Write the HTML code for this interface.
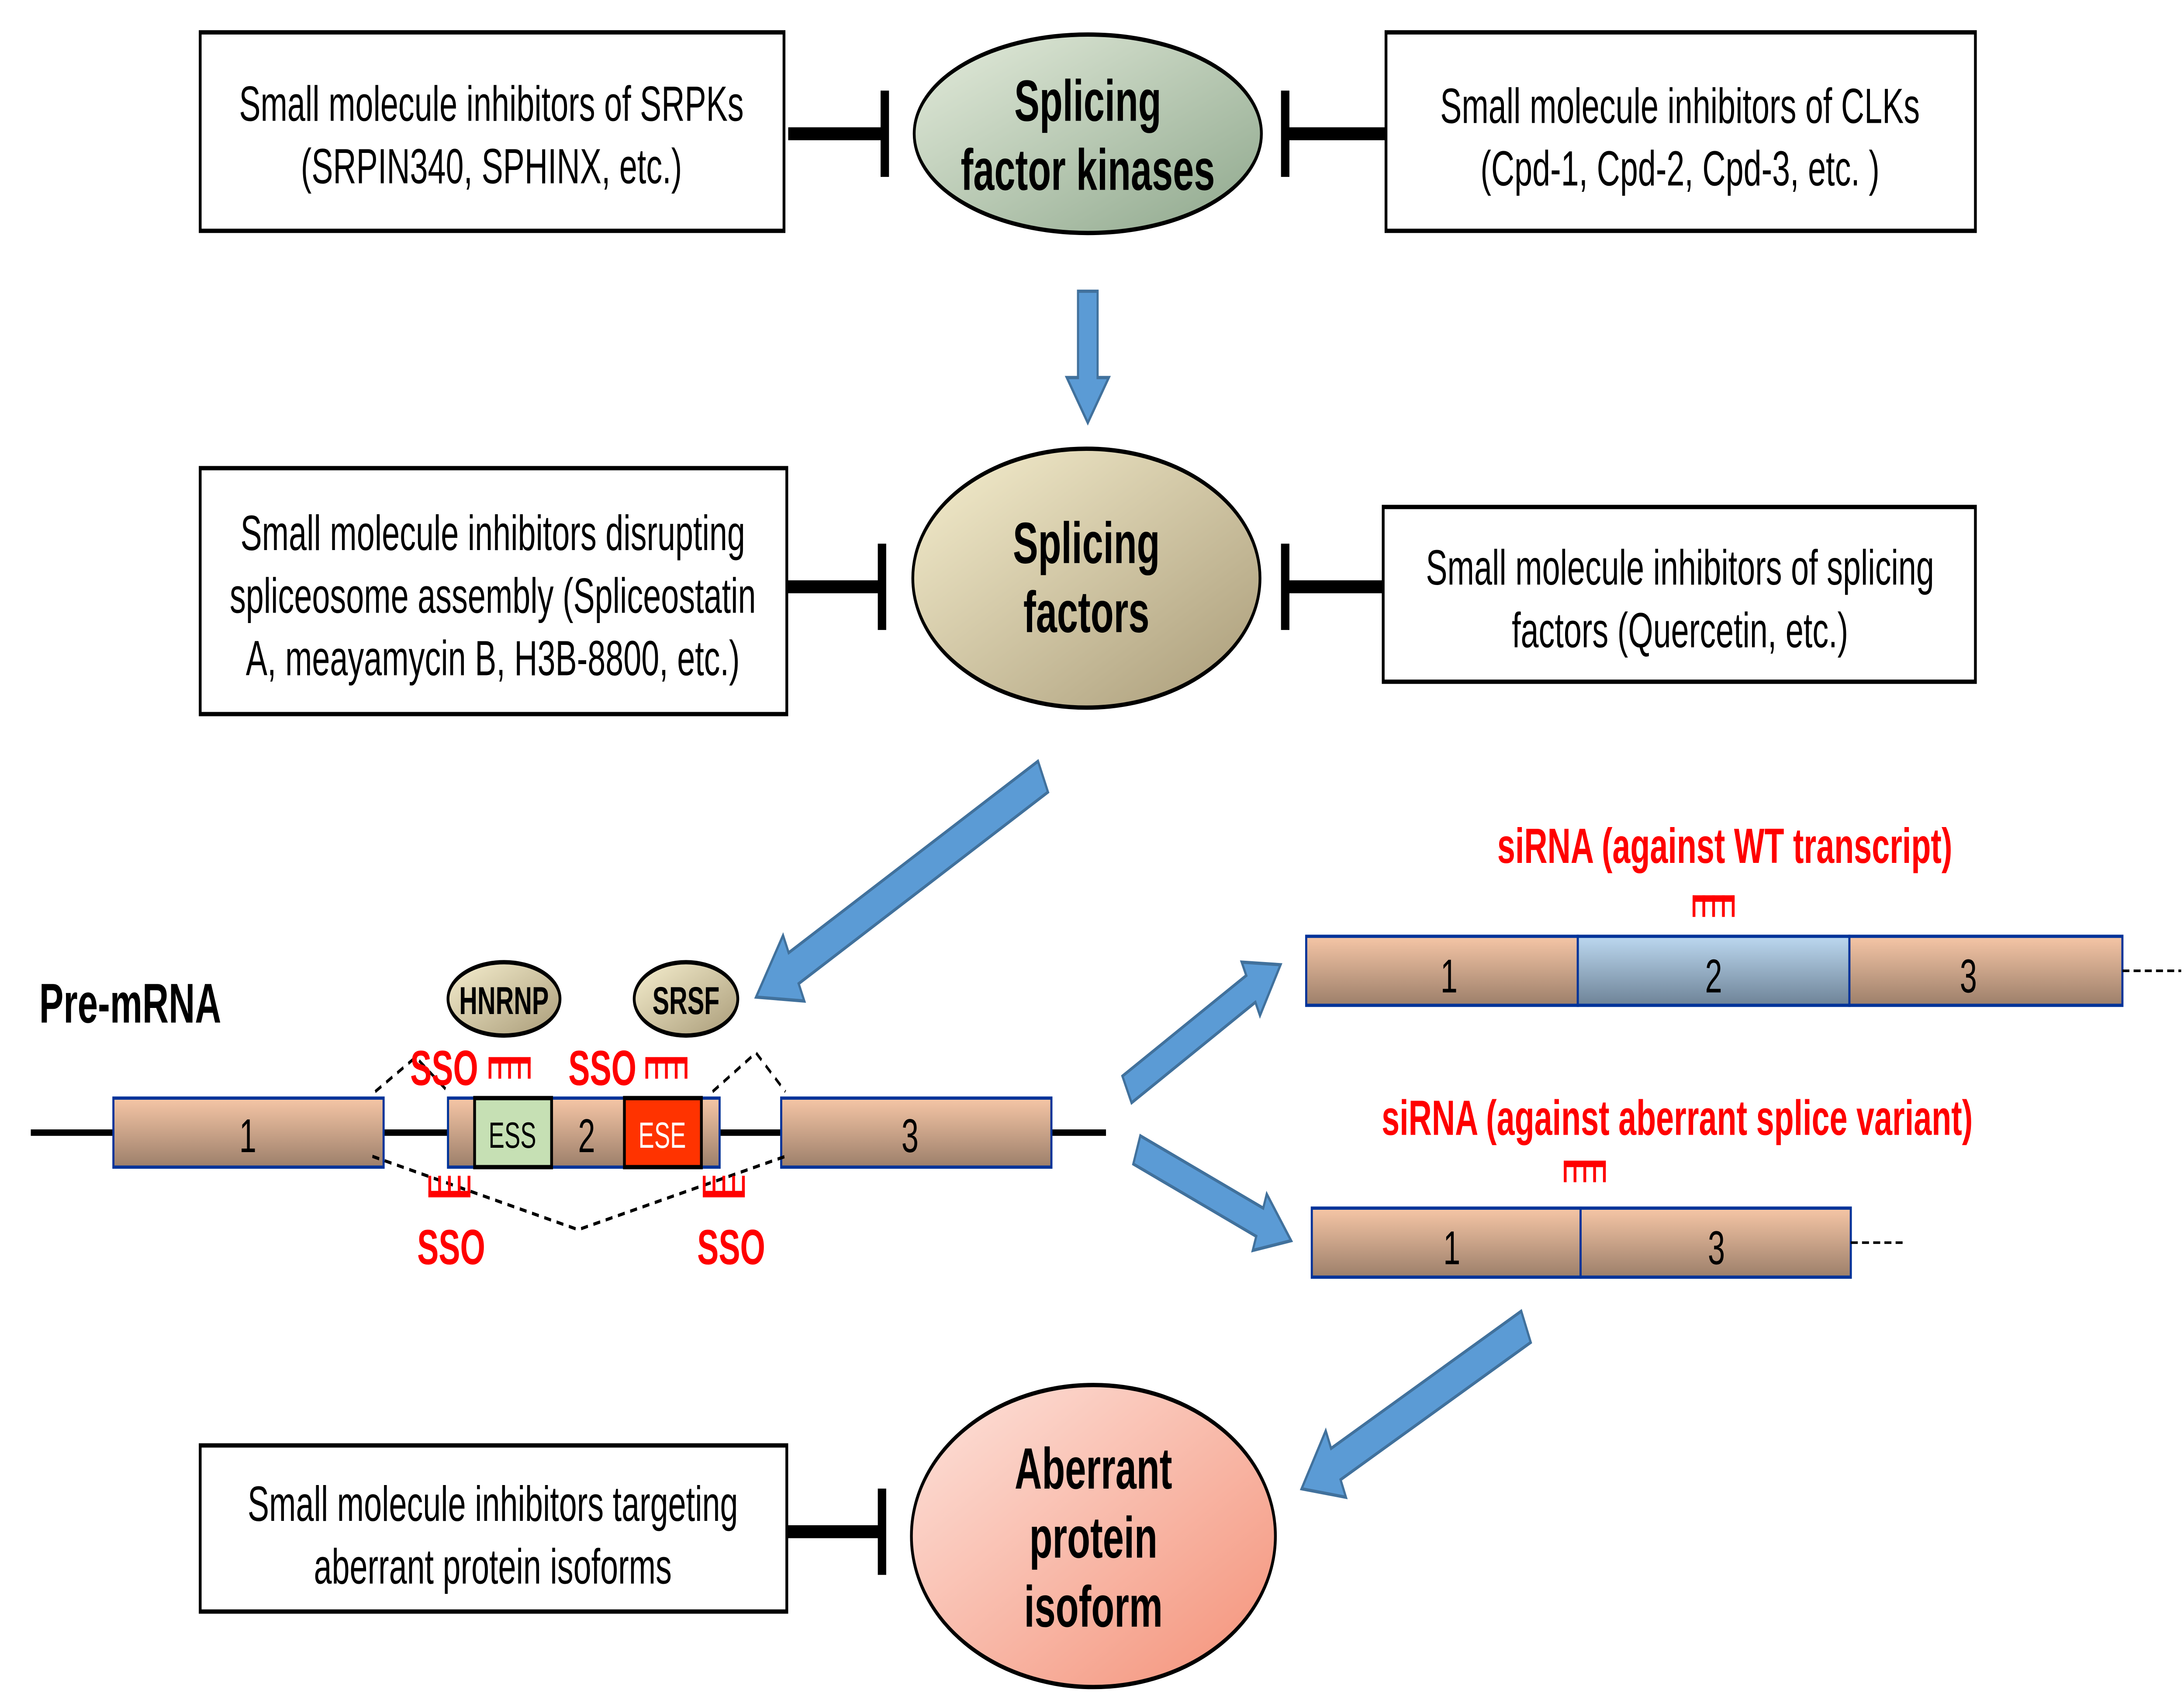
<!DOCTYPE html>
<html><head><meta charset="utf-8"><style>html,body{margin:0;padding:0;background:#fff;width:100vw;height:100vh;overflow:hidden}svg{display:block;position:absolute;left:0;top:0;width:100vw;height:100vh}</style></head>
<body>
<svg viewBox="0 0 1560 788" preserveAspectRatio="none" xmlns="http://www.w3.org/2000/svg" font-family="Liberation Sans, Arial, sans-serif">
<defs>
<linearGradient id="gk" x1="0" y1="0" x2="1" y2="1"><stop offset="0" stop-color="#e4ecdc"/><stop offset="1" stop-color="#8ea78c"/></linearGradient>
<linearGradient id="gf" x1="0" y1="0" x2="1" y2="1"><stop offset="0" stop-color="#f6efcf"/><stop offset="1" stop-color="#a99b78"/></linearGradient>
<linearGradient id="gp" x1="0" y1="0" x2="1" y2="1"><stop offset="0" stop-color="#fde3dc"/><stop offset="1" stop-color="#f49178"/></linearGradient>
<linearGradient id="ge" x1="0" y1="0" x2="0" y2="1"><stop offset="0" stop-color="#f6c6a6"/><stop offset="1" stop-color="#9c7f6a"/></linearGradient>
<linearGradient id="gb" x1="0" y1="0" x2="0" y2="1"><stop offset="0" stop-color="#bcd8f0"/><stop offset="1" stop-color="#6e8397"/></linearGradient>
<g id="comb"><rect x="0" y="0" width="30" height="3" fill="#f00"/><g stroke="#f00" stroke-width="2"><line x1="1" y1="0" x2="1" y2="10"/><line x1="8" y1="0" x2="8" y2="10"/><line x1="15" y1="0" x2="15" y2="10"/><line x1="22" y1="0" x2="22" y2="10"/><line x1="29" y1="0" x2="29" y2="10"/></g></g>
</defs>

<rect x="143" y="15" width="417" height="92" fill="#fff" stroke="#000" stroke-width="2"/>
<text x="351" y="56" font-size="23" text-anchor="middle">Small molecule inhibitors of SRPKs</text>
<text x="351" y="85" font-size="23" text-anchor="middle">(SRPIN340, SPHINX, etc.)</text>
<line x1="563" y1="62" x2="632" y2="62" stroke="#000" stroke-width="6"/>
<line x1="632" y1="42" x2="632" y2="82" stroke="#000" stroke-width="6"/>
<ellipse cx="777" cy="62" rx="124" ry="46" fill="url(#gk)" stroke="#000" stroke-width="2"/>
<text x="777" y="56" font-size="27" font-weight="bold" text-anchor="middle">Splicing</text>
<text x="777" y="88" font-size="27" font-weight="bold" text-anchor="middle">factor kinases</text>
<line x1="918" y1="42" x2="918" y2="82" stroke="#000" stroke-width="6"/>
<line x1="918" y1="62" x2="990" y2="62" stroke="#000" stroke-width="6"/>
<rect x="990" y="15" width="421" height="92" fill="#fff" stroke="#000" stroke-width="2"/>
<text x="1200" y="57" font-size="23" text-anchor="middle">Small molecule inhibitors of CLKs</text>
<text x="1200" y="86" font-size="23" text-anchor="middle">(Cpd-1, Cpd-2, Cpd-3, etc. )</text>

<path d="M770,135 L784,135 L784,175 L792,175 L777,196 L762,175 L770,175 Z" fill="#5b9bd5" stroke="#41719c" stroke-width="1.5"/>

<rect x="143" y="217" width="419" height="114" fill="#fff" stroke="#000" stroke-width="2"/>
<text x="352" y="255" font-size="23" text-anchor="middle">Small molecule inhibitors disrupting</text>
<text x="352" y="284" font-size="23" text-anchor="middle">spliceosome assembly (Spliceostatin</text>
<text x="352" y="313" font-size="23" text-anchor="middle">A, meayamycin B, H3B-8800, etc.)</text>
<line x1="562" y1="272" x2="630" y2="272" stroke="#000" stroke-width="6"/>
<line x1="630" y1="252" x2="630" y2="292" stroke="#000" stroke-width="6"/>
<ellipse cx="776" cy="268" rx="124" ry="60" fill="url(#gf)" stroke="#000" stroke-width="2"/>
<text x="776" y="261" font-size="27" font-weight="bold" text-anchor="middle">Splicing</text>
<text x="776" y="293" font-size="27" font-weight="bold" text-anchor="middle">factors</text>
<line x1="918" y1="252" x2="918" y2="292" stroke="#000" stroke-width="6"/>
<line x1="918" y1="272" x2="988" y2="272" stroke="#000" stroke-width="6"/>
<rect x="988" y="235" width="423" height="81" fill="#fff" stroke="#000" stroke-width="2"/>
<text x="1200" y="271" font-size="23" text-anchor="middle">Small molecule inhibitors of splicing</text>
<text x="1200" y="300" font-size="23" text-anchor="middle">factors (Quercetin, etc.)</text>

<g fill="#5b9bd5" stroke="#41719c" stroke-width="1.5">
<path transform="translate(745,360) rotate(153.5)" d="M0,-8 L199,-8 L199,-17 L229,0 L199,17 L199,8 L0,8 Z"/>
<path transform="translate(805,505) rotate(-27.8)" d="M0,-7 L100,-7 L100,-14 L124,0 L100,14 L100,7 L0,7 Z"/>
<path transform="translate(812,533) rotate(20.9)" d="M0,-7 L94,-7 L94,-14 L118,0 L94,14 L94,7 L0,7 Z"/>
<path transform="translate(1090,615) rotate(154.9)" d="M0,-8 L150,-8 L150,-17 L177,0 L150,17 L150,8 L0,8 Z"/>
</g>

<text x="28" y="474" font-size="26" font-weight="bold">Pre-mRNA</text>
<ellipse cx="360" cy="463" rx="40" ry="17" fill="url(#gf)" stroke="#000" stroke-width="2"/>
<text x="360" y="470" font-size="18" font-weight="bold" text-anchor="middle">HNRNP</text>
<ellipse cx="490" cy="463" rx="37" ry="17" fill="url(#gf)" stroke="#000" stroke-width="2"/>
<text x="490" y="470" font-size="18" font-weight="bold" text-anchor="middle">SRSF</text>

<line x1="22" y1="525" x2="790" y2="525" stroke="#000" stroke-width="3"/>
<g stroke="#003399" stroke-width="1.5">
<rect x="81" y="509" width="193" height="32" fill="url(#ge)"/>
<rect x="320" y="509" width="194" height="32" fill="url(#ge)"/>
<rect x="558" y="509" width="193" height="32" fill="url(#ge)"/>
</g>
<rect x="339" y="509" width="55" height="32" fill="#c6e0b4" stroke="#000" stroke-width="2"/>
<rect x="446" y="509" width="55" height="32" fill="#ff3300" stroke="#000" stroke-width="2"/>
<text x="177" y="534" font-size="22" text-anchor="middle">1</text>
<text x="366" y="532" font-size="17" text-anchor="middle">ESS</text>
<text x="419" y="534" font-size="22" text-anchor="middle">2</text>
<text x="473" y="532" font-size="17" text-anchor="middle" fill="#fff">ESE</text>
<text x="650" y="534" font-size="22" text-anchor="middle">3</text>
<g fill="none" stroke="#000" stroke-width="1.5" stroke-dasharray="5,4">
<polyline points="268,506 297,490 320,506"/>
<polyline points="509,506 540,488 561,506"/>
<polyline points="266,536 413,570 561,536"/>
</g>
<g font-size="23" font-weight="bold" fill="#f00">
<text x="293" y="503">SSO</text>
<text x="406" y="503">SSO</text>
<text x="298" y="586">SSO</text>
<text x="498" y="586">SSO</text>
</g>
<use href="#comb" x="349" y="490"/>
<use href="#comb" x="461" y="490"/>
<use href="#comb" transform="translate(306,555) scale(1,-1)"/>
<use href="#comb" transform="translate(502,555) scale(1,-1)"/>

<text x="1232" y="400" font-size="23" font-weight="bold" fill="#f00" text-anchor="middle">siRNA (against WT transcript)</text>
<use href="#comb" x="1209" y="415"/>
<g stroke="#003399" stroke-width="1.5">
<rect x="933" y="434" width="194" height="32" fill="url(#ge)"/>
<rect x="1127" y="434" width="194" height="32" fill="url(#gb)"/>
<rect x="1321" y="434" width="195" height="32" fill="url(#ge)"/>
</g>
<text x="1035" y="460" font-size="22" text-anchor="middle">1</text>
<text x="1224" y="460" font-size="22" text-anchor="middle">2</text>
<text x="1406" y="460" font-size="22" text-anchor="middle">3</text>
<line x1="1516" y1="450" x2="1558" y2="450" stroke="#000" stroke-width="1.2" stroke-dasharray="5,3"/>

<text x="1198" y="526" font-size="23" font-weight="bold" fill="#f00" text-anchor="middle">siRNA (against aberrant splice variant)</text>
<use href="#comb" x="1117" y="538"/>
<g stroke="#003399" stroke-width="1.5">
<rect x="937" y="560" width="192" height="32" fill="url(#ge)"/>
<rect x="1129" y="560" width="193" height="32" fill="url(#ge)"/>
</g>
<text x="1037" y="586" font-size="22" text-anchor="middle">1</text>
<text x="1226" y="586" font-size="22" text-anchor="middle">3</text>
<line x1="1322" y1="576" x2="1360" y2="576" stroke="#000" stroke-width="1.2" stroke-dasharray="5,3"/>

<rect x="143" y="670" width="419" height="77" fill="#fff" stroke="#000" stroke-width="2"/>
<text x="352" y="705" font-size="23" text-anchor="middle">Small molecule inhibitors targeting</text>
<text x="352" y="734" font-size="23" text-anchor="middle">aberrant protein isoforms</text>
<line x1="562" y1="710" x2="630" y2="710" stroke="#000" stroke-width="6"/>
<line x1="630" y1="690" x2="630" y2="730" stroke="#000" stroke-width="6"/>
<ellipse cx="781" cy="712" rx="130" ry="70" fill="url(#gp)" stroke="#000" stroke-width="2"/>
<text x="781" y="690" font-size="27" font-weight="bold" text-anchor="middle">Aberrant</text>
<text x="781" y="722" font-size="27" font-weight="bold" text-anchor="middle">protein</text>
<text x="781" y="754" font-size="27" font-weight="bold" text-anchor="middle">isoform</text>
</svg>
</body></html>
